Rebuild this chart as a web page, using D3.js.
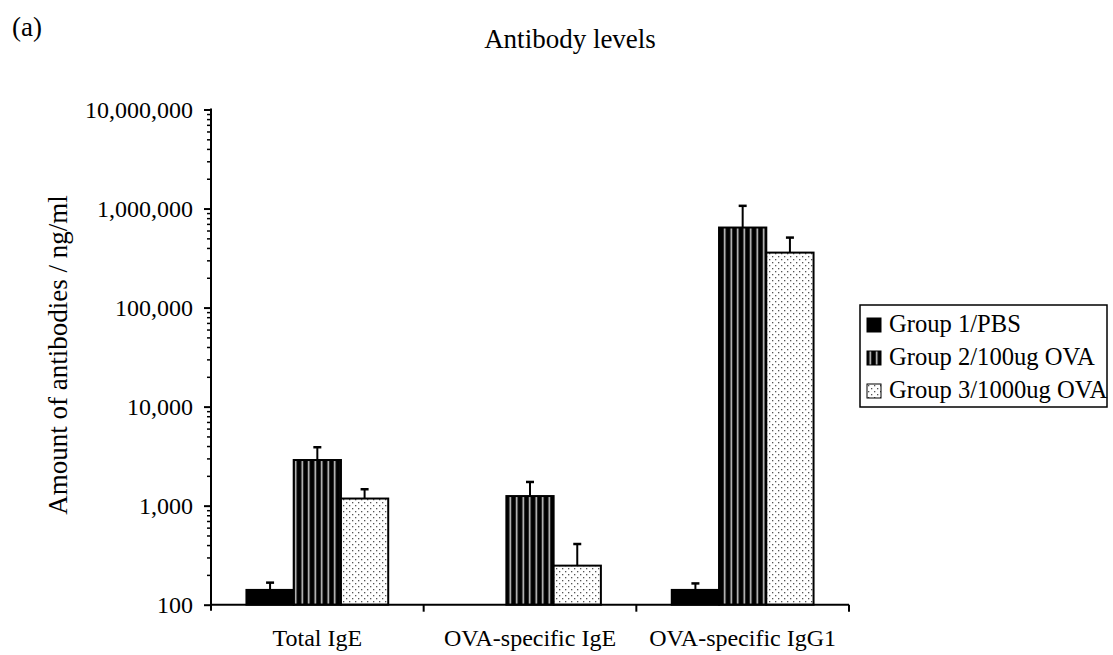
<!DOCTYPE html>
<html>
<head>
<meta charset="utf-8">
<script src="https://cdn.jsdelivr.net/npm/d3@7"></script>
<style>
  html, body { margin: 0; padding: 0; background: #fff; }
  svg { display: block; }
  text { font-family: "Liberation Serif", "Times New Roman", serif; fill: #000; }
</style>
</head>
<body>
<svg id="chart" width="1113" height="655"></svg>
<script>
// Antibody measurements (ng/ml) per assay and group; errors are the upper SD values
const categories = ["Total IgE", "OVA-specific IgE", "OVA-specific IgG1"];
const groups = ["Group 1/PBS", "Group 2/100ug OVA", "Group 3/1000ug OVA"];
const group1Values = [141, null, 141];
const group2Values = [2890, 1250, 643000];
const group3Values = [1180, 248, 359000];
const group1ErrTop = [167, null, 164];
const group2ErrTop = [3890, 1735, 1065000];
const group3ErrTop = [1465, 410, 509000];
const yMajorTicks = [100, 1000, 10000, 100000, 1000000, 10000000];

const seriesValues = [group1Values, group2Values, group3Values];
const seriesErrTop = [group1ErrTop, group2ErrTop, group3ErrTop];
const fills = ["#000", "url(#stripes)", "url(#dots)"];

const svg = d3.select("#chart");

// Fill patterns: vertical stripes and a fine dot grid
const defs = svg.append("defs");
const stripes = defs.append("pattern")
  .attr("id", "stripes").attr("patternUnits", "userSpaceOnUse")
  .attr("width", 6.5).attr("height", 10);
stripes.append("rect").attr("width", 6.5).attr("height", 10).attr("fill", "#000");
stripes.append("rect").attr("x", 2.5).attr("width", 1.5).attr("height", 10).attr("fill", "#d8d8d8");

const dots = defs.append("pattern")
  .attr("id", "dots").attr("patternUnits", "userSpaceOnUse")
  .attr("width", 6).attr("height", 6);
dots.append("rect").attr("width", 6).attr("height", 6).attr("fill", "#fff");
dots.append("rect").attr("x", 1).attr("y", 1).attr("width", 1.3).attr("height", 1.3).attr("fill", "#555");
dots.append("rect").attr("x", 4).attr("y", 4).attr("width", 1.3).attr("height", 1.3).attr("fill", "#555");

const plot = { left: 211, right: 849, top: 109.5, bottom: 604.7 };

const x = d3.scaleBand().domain(categories).range([plot.left, plot.right]).padding(0);
const barW = x.bandwidth() / 4.5;
const xInner = d3.scaleBand().domain(d3.range(groups.length))
  .range([barW * 0.75, x.bandwidth() - barW * 0.75]).padding(0);

const y = d3.scaleLog().domain([100, 1e7]).range([plot.bottom, plot.top]);

// Bars
const g = svg.append("g");
seriesValues.forEach((vals, si) => {
  g.selectAll(null)
    .data(categories.map((c, i) => ({ c, v: vals[i], e: seriesErrTop[si][i] })).filter(d => d.v != null))
    .enter().append("rect")
    .attr("x", d => x(d.c) + xInner(si))
    .attr("y", d => y(d.v))
    .attr("width", xInner.bandwidth())
    .attr("height", d => y(100) - y(d.v))
    .attr("fill", fills[si])
    .attr("stroke", "#000").attr("stroke-width", 2);
});

// Upper error bars
seriesValues.forEach((vals, si) => {
  const data = categories.map((c, i) => ({ c, v: vals[i], e: seriesErrTop[si][i] })).filter(d => d.v != null);
  const cx = d => x(d.c) + xInner(si) + xInner.bandwidth() / 2;
  g.selectAll(null).data(data).enter().append("line")
    .attr("x1", cx).attr("x2", cx)
    .attr("y1", d => y(d.v)).attr("y2", d => y(d.e))
    .attr("stroke", "#000").attr("stroke-width", 2);
  g.selectAll(null).data(data).enter().append("line")
    .attr("x1", d => cx(d) - 4).attr("x2", d => cx(d) + 4)
    .attr("y1", d => y(d.e)).attr("y2", d => y(d.e))
    .attr("stroke", "#000").attr("stroke-width", 2.5);
});

// Y axis: minor log ticks, then major ticks with labels
const minorTicks = [];
for (let p = 2; p < 7; p++) for (let m = 2; m <= 9; m++) minorTicks.push(m * Math.pow(10, p));

svg.append("g").attr("transform", `translate(${plot.left},0)`)
  .call(d3.axisLeft(y).tickValues(minorTicks).tickSize(4).tickFormat(""))
  .call(a => a.select(".domain").remove())
  .call(a => a.selectAll("line").attr("stroke-width", 1.5));

const yAxis = svg.append("g").attr("transform", `translate(${plot.left},0)`)
  .call(d3.axisLeft(y).tickValues(yMajorTicks).tickSize(7).tickSizeOuter(0).tickPadding(11)
    .tickFormat(d3.format(",")));
yAxis.select(".domain").remove();
yAxis.selectAll("line").attr("stroke-width", 2);
yAxis.selectAll("text").style("font-family", '"Liberation Serif", serif').style("font-size", "24px");
svg.append("line")
  .attr("x1", plot.left).attr("x2", plot.left)
  .attr("y1", plot.top - 1).attr("y2", plot.bottom + 6)
  .attr("stroke", "#000").attr("stroke-width", 2);

// X axis with separator ticks between categories
const xAxis = svg.append("g").attr("transform", `translate(0,${plot.bottom})`);
xAxis.append("line")
  .attr("x1", plot.left).attr("x2", plot.right)
  .attr("stroke", "#000").attr("stroke-width", 2);
xAxis.selectAll(null).data(categories).enter().append("line")
  .attr("x1", d => x(d) + x.bandwidth()).attr("x2", d => x(d) + x.bandwidth())
  .attr("y1", 0).attr("y2", 7)
  .attr("stroke", "#000").attr("stroke-width", 2);
xAxis.selectAll(null).data(categories).enter().append("text")
  .attr("x", d => x(d) + x.bandwidth() / 2)
  .attr("y", 41)
  .attr("text-anchor", "middle")
  .style("font-size", "24px")
  .text(d => d);

// Titles
svg.append("text").attr("x", 570).attr("y", 48).attr("text-anchor", "middle")
  .style("font-size", "27px").text("Antibody levels");
svg.append("text").attr("x", 12).attr("y", 36)
  .style("font-size", "27px").text("(a)");
svg.append("text")
  .attr("transform", "translate(67,355) rotate(-90)")
  .attr("text-anchor", "middle")
  .style("font-size", "27px")
  .text("Amount of antibodies / ng/ml");

// Legend
const legend = svg.append("g").attr("transform", "translate(860,305)");
legend.append("rect").attr("width", 247).attr("height", 102)
  .attr("fill", "#fff").attr("stroke", "#000").attr("stroke-width", 1.5);
const rows = legend.selectAll(null).data(groups).enter().append("g")
  .attr("transform", (d, i) => `translate(7,${13 + i * 33})`);
rows.append("rect").attr("width", 14).attr("height", 14)
  .attr("fill", (d, i) => fills[i]).attr("stroke", "#000").attr("stroke-width", 1);
rows.append("text").attr("x", 22).attr("y", 14)
  .style("font-size", "24.6px").text(d => d);
</script>
</body>
</html>
